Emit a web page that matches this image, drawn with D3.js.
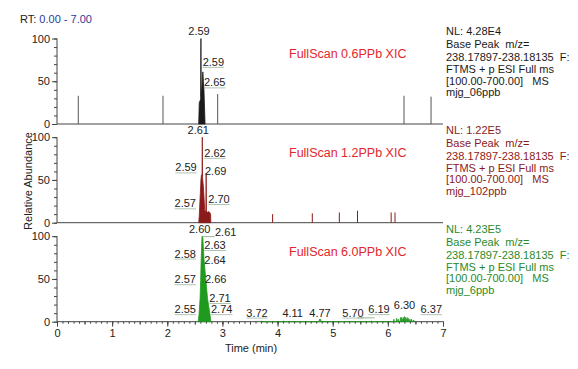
<!DOCTYPE html>
<html><head><meta charset="utf-8">
<script src="https://cdn.jsdelivr.net/npm/d3@7"></script>
<style>
body{margin:0;background:#fff;}
svg{display:block;font-family:"Liberation Sans",Arial,sans-serif;}
</style></head>
<body>
<script>
// ---------- DATA ----------
const timeRange = [0, 7];
const xTickLabels = [0, 1, 2, 3, 4, 5, 6, 7];
const yTickLabels = [0, 50, 100];
const panelTitles = ["FullScan 0.6PPb XIC", "FullScan 1.2PPb XIC", "FullScan 6.0PPb XIC"];
const panelNL = ["NL: 4.28E4", "NL: 1.22E5", "NL: 4.23E5"];
const panelFiles = ["mjg_06ppb", "mjg_102ppb", "mjg_6ppb"];
const scanInfo = ["Base Peak  m/z=", "238.17897-238.18135  F:", "FTMS + p ESI Full ms", "[100.00-700.00]   MS"];

// main peak profiles [time (min), relative abundance %]
const peak06 = [[2.57,0],[2.58,25],[2.60,28],[2.605,30],[2.61,100],[2.615,32],[2.63,45],[2.645,61],[2.655,50],[2.665,40],[2.675,20],[2.685,0]];
const peak12 = [[2.57,0],[2.58,8],[2.59,22],[2.60,35],[2.61,50],[2.62,56],[2.63,55],[2.635,100],[2.64,52],[2.655,42],[2.67,25],[2.68,14],[2.69,12],[2.70,15],[2.705,58],[2.71,14],[2.73,12],[2.75,13],[2.77,12],[2.785,10],[2.79,0]];
const peak60 = [[2.56,0],[2.575,8],[2.595,27],[2.605,48],[2.615,74],[2.63,100],[2.645,98],[2.665,74],[2.70,48],[2.73,27],[2.775,8],[2.79,0]];
// secondary small signals
const minor06 = [[0.386,33],[1.922,33],[2.914,35],[6.293,33],[6.783,32]];
const minor12 = [[3.91,10],[4.63,11],[5.12,12],[5.45,14],[6.06,12],[6.13,12]];
const minor60 = [[3.70,0],[3.71,1],[3.72,0],[4.10,0],[4.11,1],[4.12,0],[4.75,0],[4.76,3],[4.77,2],[4.78,3],[4.79,0],[5.69,0],[5.70,1],[5.71,0],
  [6.10,0],[6.11,3],[6.12,0],[6.15,0],[6.16,4],[6.17,0],[6.19,3],[6.20,0],[6.22,0],[6.23,5],[6.24,2],[6.25,5],[6.26,1],[6.28,5],[6.29,2],
  [6.30,6],[6.31,2],[6.32,5],[6.33,1],[6.35,5],[6.36,1],[6.37,4],[6.38,0],[6.40,3],[6.41,0],[6.43,3],[6.44,0],[6.47,2],[6.48,0]];

// peak labels: [text, time, abundance, anchor, underline]
const labels06 = [["2.59",2.575,104,"middle",0],["2.59",2.642,68,"start",1],["2.65",2.666,44,"start",1]];
const labels12 = [["2.61",2.562,104,"middle",0],["2.62",2.671,77,"start",1],["2.59",2.534,60,"end",1],["2.69",2.684,56,"start",0],["2.57",2.521,18,"end",1],["2.70",2.744,23,"start",1]];
const labels60 = [["2.60",2.588,103.5,"middle",0],["2.61",2.865,100,"start",0],["2.63",2.671,85,"start",1],["2.58",2.521,75,"end",1],["2.64",2.671,67,"start",0],
  ["2.57",2.521,45,"end",1],["2.66",2.684,45,"start",0],["2.71",2.762,23,"start",1],["2.55",2.521,10,"end",1],["2.74",2.793,10,"start",1],
  ["3.72",3.627,6,"middle",1],["4.11",4.274,6,"middle",0],["4.77",4.77,6,"middle",0],["5.70",5.368,6,"middle",1],["6.19",5.84,10,"middle",1],["6.30",6.302,14.5,"middle",0],["6.37",6.788,10,"middle",1]];
// leader lines from a peak apex to its label: [t1, v1, t2, v2]
const leaders60 = [[2.64,99.5,2.86,99.5],[5.45,4.5,5.76,4.5]];

const peaks = [peak06, peak12, peak60];
const minors = [minor06, minor12, minor60];
const labelSets = [labels06, labels12, labels60];
const leaderSets = [[], [], leaders60];

// ---------- STYLE / LAYOUT ----------
const W = 578, H = 369;
const traceColors = ["#1a1a1a", "#8b1a1a", "#1f9a1f"];
const infoColors = ["#1a1a1a", "#8b1a1a", "#2a8a2a"];
const baseY = [124, 222.7, 321.7];
const plotH = 85.5;

const svg = d3.select("body").append("svg").attr("width", W).attr("height", H);
const x = d3.scaleLinear().domain(timeRange).range([57, 443]);

// RT header
const rt = svg.append("text").attr("x", 20).attr("y", 23).attr("font-size", 11).attr("fill", "#222");
rt.append("tspan").text("RT: ");
rt.append("tspan").attr("fill", "#2b3a9a").text("0.00 - 7.00");

// y axis title
svg.append("text").attr("transform", "translate(32,181) rotate(-90)").attr("text-anchor", "middle")
  .attr("font-size", 11).attr("fill", "#222").text("Relative Abundance");

const minorYTicks = d3.range(0, 101, 10);

peaks.forEach((pk, i) => {
  const y = d3.scaleLinear().domain([0, 100]).range([baseY[i], baseY[i] - plotH]);
  const g = svg.append("g");
  const col = traceColors[i];

  // y axis
  const ya = g.append("g").attr("transform", `translate(${x(0)},0)`)
    .call(d3.axisLeft(y).tickValues(minorYTicks).tickSize(3).tickFormat(""));
  ya.select(".domain").remove();
  ya.selectAll("line").attr("stroke", "#444");
  const yb = g.append("g").attr("transform", `translate(${x(0)},0)`)
    .call(d3.axisLeft(y).tickValues(yTickLabels).tickSize(5).tickPadding(2).tickFormat(d3.format("d")));
  yb.select(".domain").attr("d", `M0,${y(100)}V${y(0)}`).attr("stroke", "#444");
  yb.selectAll("line").attr("stroke", "#444");
  yb.selectAll("text").attr("font-size", 11).attr("font-family", "Liberation Sans, Arial, sans-serif").attr("fill", "#222");

  // baseline
  g.append("line").attr("x1", x(0)).attr("x2", x(7)).attr("y1", y(0)).attr("y2", y(0)).attr("stroke", "#444");

  // minor signals
  if (i < 2) {
    g.selectAll(".stem").data(minors[i]).enter().append("line")
      .attr("x1", d => x(d[0])).attr("x2", d => x(d[0]))
      .attr("y1", y(0)).attr("y2", d => y(d[1]))
      .attr("stroke", i === 0 ? "#555" : col).attr("stroke-width", 1);
  } else {
    g.append("path").datum(minors[i])
      .attr("d", d3.area().x(d => x(d[0])).y0(y(0)).y1(d => y(d[1])))
      .attr("fill", col).attr("stroke", col).attr("stroke-width", 0.7);
  }

  // main peak
  g.append("path").datum(pk)
    .attr("d", d3.area().x(d => x(d[0])).y0(y(0)).y1(d => y(d[1])))
    .attr("fill", col).attr("stroke", col).attr("stroke-width", 0.8);

  // leaders
  leaderSets[i].forEach(l => {
    g.append("line").attr("x1", x(l[0])).attr("y1", y(l[1])).attr("x2", x(l[2])).attr("y2", y(l[3]))
      .attr("stroke", "#7f9f7f").attr("stroke-width", 0.8);
  });

  // labels
  labelSets[i].forEach(l => {
    const t = g.append("text").attr("x", x(l[1])).attr("y", y(l[2]))
      .attr("text-anchor", l[3]).attr("font-size", 11).attr("fill", "#222").text(l[0]);
    if (l[4]) {
      const w = t.node().getComputedTextLength();
      let x0 = x(l[1]);
      if (l[3] === "end") x0 -= w; else if (l[3] === "middle") x0 -= w / 2;
      g.append("line").attr("x1", x0).attr("x2", x0 + w)
        .attr("y1", y(l[2]) + 1.5).attr("y2", y(l[2]) + 1.5)
        .attr("stroke", "#8faa8f").attr("stroke-width", 0.7);
    }
  });

  // title
  g.append("text").attr("x", 289).attr("y", baseY[i] - 66).attr("font-size", 12.5)
    .attr("fill", "#e3262b").text(panelTitles[i]);

  // info block
  const info = [panelNL[i], ...scanInfo, panelFiles[i]];
  const offs = [-89, -76, -63, -51, -39.5, -28];
  info.forEach((s, k) => {
    g.append("text").attr("x", 446).attr("y", baseY[i] + offs[k]).attr("font-size", 11)
      .attr("fill", infoColors[i]).attr("xml:space", "preserve").style("white-space", "pre").text(s);
  });

  // x axis on last panel
  if (i === 2) {
    const xm = g.append("g").attr("transform", `translate(0,${y(0)})`)
      .call(d3.axisBottom(x).tickValues(d3.range(0, 70.5, 1).map(v => v / 10)).tickSize(2).tickFormat(""));
    xm.select(".domain").remove();
    xm.selectAll("line").attr("stroke", "#444");
    const xh = g.append("g").attr("transform", `translate(0,${y(0)})`)
      .call(d3.axisBottom(x).tickValues(d3.range(0, 14.5, 1).map(v => v / 2)).tickSize(3).tickFormat(""));
    xh.select(".domain").remove();
    xh.selectAll("line").attr("stroke", "#444");
    const xa = g.append("g").attr("transform", `translate(0,${y(0)})`)
      .call(d3.axisBottom(x).tickValues(xTickLabels).tickSize(5).tickPadding(3).tickFormat(d3.format("d")));
    xa.select(".domain").remove();
    xa.selectAll("line").attr("stroke", "#444");
    xa.selectAll("text").attr("font-size", 11).attr("font-family", "Liberation Sans, Arial, sans-serif").attr("fill", "#222");
    g.append("text").attr("x", 251).attr("y", 352).attr("text-anchor", "middle").attr("font-size", 11)
      .attr("fill", "#222").text("Time (min)");
  }
});
</script>
</body></html>
